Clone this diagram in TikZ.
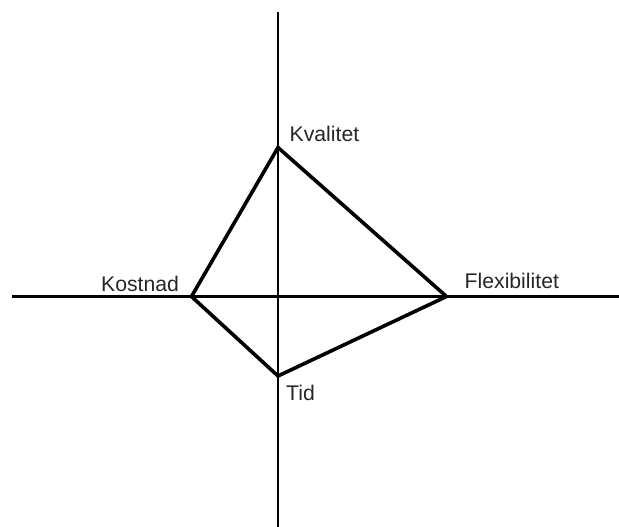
\documentclass[tikz,border=0pt]{standalone}
\usepackage{fontspec}
\setmainfont{Liberation Sans}
\begin{document}
\begin{tikzpicture}[x=1pt,y=-1pt,
  axis/.style={line width=2.4pt,black},
  quad/.style={line width=3.6pt,black,line join=miter},
  lbl/.style={inner sep=0pt,anchor=base west,font=\fontsize{21.2}{24}\selectfont,text=black!85}]
  \useasboundingbox (0,0) rectangle (619,527);
  % axes
  \coordinate (top) at (278,12);
  \coordinate (bottom) at (278,527);
  \coordinate (left) at (12,296.5);
  \coordinate (right) at (619,296.5);
  \draw[axis] (top) -- (bottom);
  \draw[axis] (left) -- (right);
  % corners of the profile
  \coordinate (kv) at (278,147.5);
  \coordinate (ko) at (191.5,296.5);
  \coordinate (fl) at (446.5,296.5);
  \coordinate (ti) at (278,376);
  \draw[quad] (kv) -- (fl) -- (ti) -- (ko) -- cycle;
  % labels
  \node[lbl] (lkv) at (289.5,141.5) {Kvalitet};
  \node[lbl] (lko) at (101,291.5) {Kostnad};
  \node[lbl] (lfl) at (464.5,288) {Flexibilitet};
  \node[lbl] (lti) at (286,400) {Tid};
\end{tikzpicture}
\end{document}
